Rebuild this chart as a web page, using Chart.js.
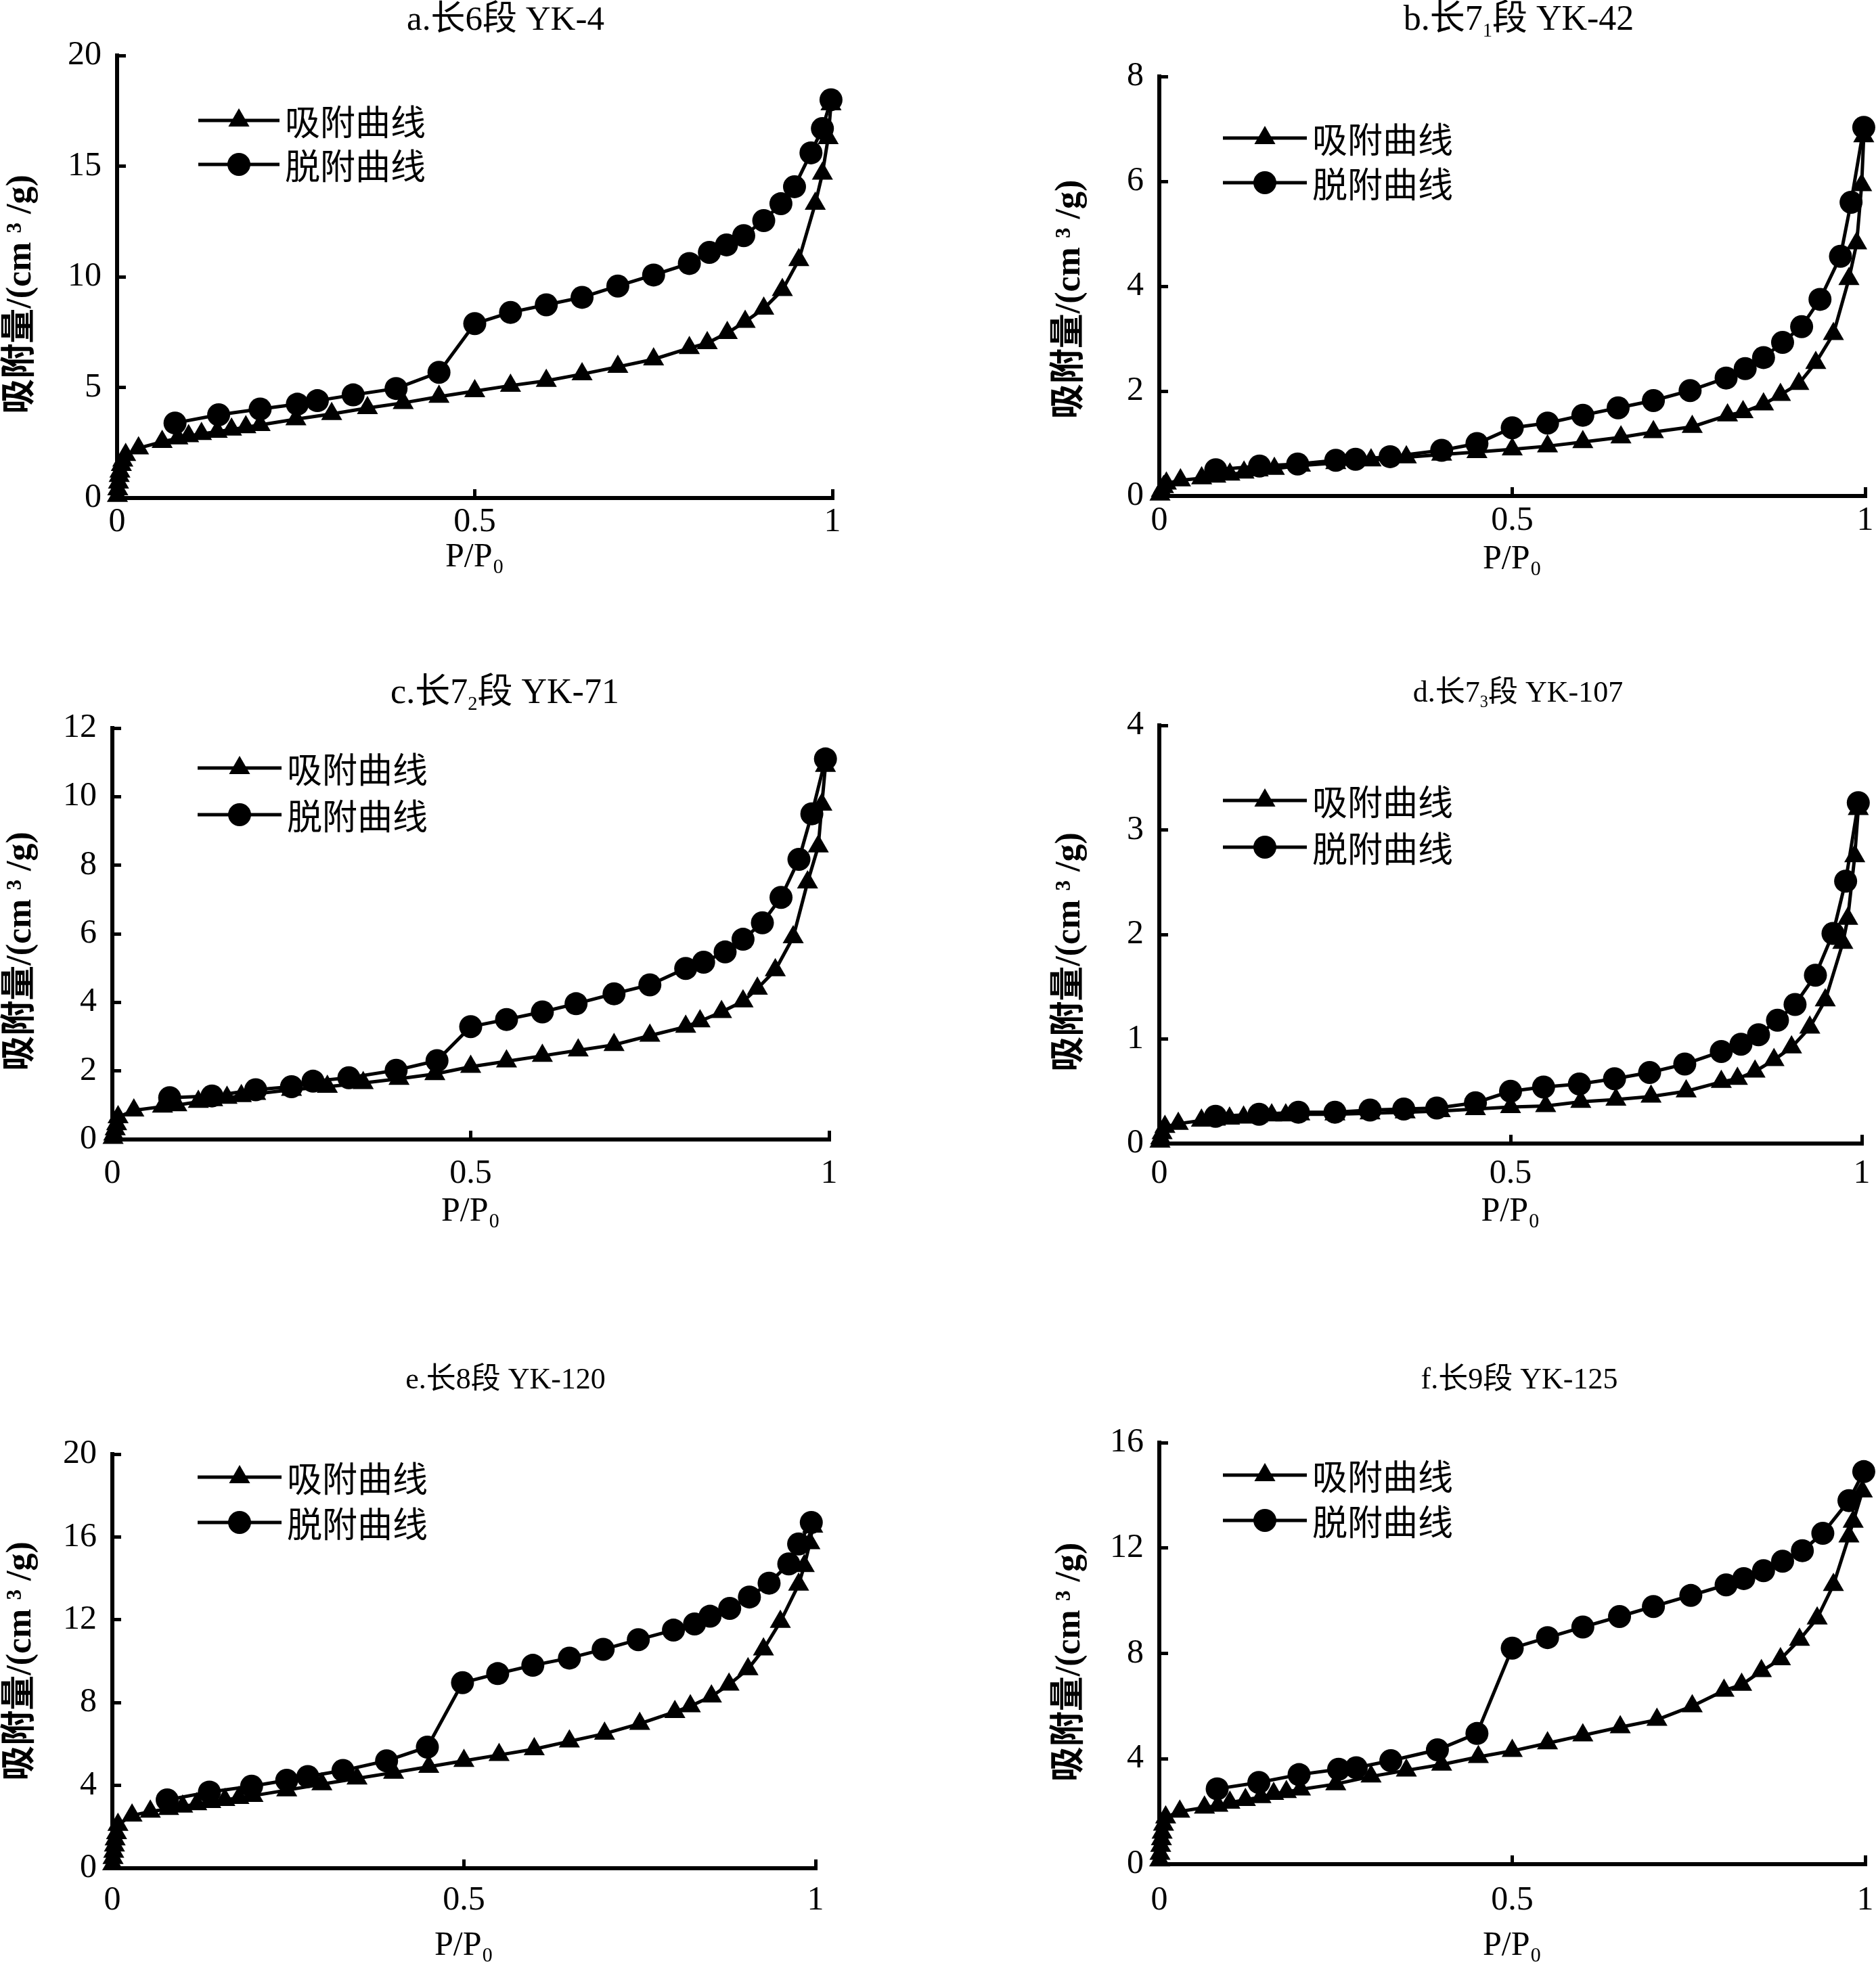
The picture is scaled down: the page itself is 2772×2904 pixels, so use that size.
<!DOCTYPE html>
<html>
<head>
<meta charset="utf-8">
<script src="https://cdn.jsdelivr.net/npm/chart.js@4.4.0/dist/chart.umd.min.js"></script>
<style>
  html, body { margin: 0; padding: 0; background: #fff; overflow: hidden; }
  #page { position: relative; width: 2772px; height: 2904px; background: #fff; overflow: hidden; }
  canvas { position: absolute; }
</style>
</head>
<body>
<div id="page"></div>
<script>
// series labels and axis titles
const seriesNames = ['吸附曲线', '脱附曲线'];
const xTitle = 'P/P₀';
const yTitle = '吸附量/(cm ³ /g)';

// a. 长6段 YK-4
const aAdsX = [0.0005, 0.001, 0.002, 0.003, 0.004, 0.006, 0.008, 0.012, 0.03, 0.063, 0.085, 0.1, 0.118, 0.14, 0.16, 0.18, 0.2, 0.25, 0.3, 0.35, 0.4, 0.45, 0.5, 0.55, 0.6, 0.65, 0.7, 0.75, 0.8, 0.825, 0.853, 0.878, 0.904, 0.93, 0.953, 0.976, 0.986, 0.994, 0.998];
const aAdsY = [0.1, 0.4, 0.7, 1.0, 1.2, 1.5, 1.7, 1.95, 2.25, 2.54, 2.7, 2.8, 2.9, 3.0, 3.1, 3.2, 3.3, 3.56, 3.8, 4.07, 4.3, 4.58, 4.83, 5.08, 5.3, 5.6, 5.93, 6.27, 6.78, 7.0, 7.46, 7.97, 8.56, 9.4, 10.76, 13.3, 14.66, 16.27, 17.8];
const aDesX = [0.998, 0.986, 0.97, 0.947, 0.928, 0.904, 0.876, 0.852, 0.828, 0.8, 0.75, 0.7, 0.65, 0.6, 0.55, 0.5, 0.45, 0.39, 0.33, 0.28, 0.252, 0.2, 0.142, 0.081];
const aDesY = [18.0, 16.7, 15.6, 14.07, 13.3, 12.54, 11.86, 11.44, 11.1, 10.6, 10.08, 9.58, 9.07, 8.73, 8.39, 7.88, 5.68, 4.95, 4.66, 4.4, 4.24, 4.02, 3.76, 3.39];

// b. 长71段 YK-42
const bAdsX = [0.001, 0.003, 0.006, 0.01, 0.03, 0.06, 0.08, 0.1, 0.12, 0.14, 0.163, 0.2, 0.25, 0.3, 0.35, 0.4, 0.45, 0.5, 0.55, 0.6, 0.654, 0.7, 0.755, 0.805, 0.827, 0.856, 0.88, 0.906, 0.93, 0.955, 0.977, 0.988, 0.995, 0.998];
const bAdsY = [0.03, 0.1, 0.17, 0.24, 0.3, 0.34, 0.37, 0.41, 0.45, 0.49, 0.52, 0.58, 0.63, 0.68, 0.74, 0.79, 0.84, 0.89, 0.95, 1.03, 1.12, 1.22, 1.32, 1.54, 1.6, 1.75, 1.93, 2.14, 2.54, 3.09, 4.14, 4.82, 5.93, 6.86];
const bDesX = [0.998, 0.98, 0.965, 0.936, 0.91, 0.883, 0.856, 0.83, 0.803, 0.752, 0.7, 0.65, 0.6, 0.55, 0.5, 0.45, 0.4, 0.327, 0.278, 0.25, 0.196, 0.142, 0.08];
const bDesY = [7.03, 5.6, 4.57, 3.75, 3.23, 2.93, 2.64, 2.43, 2.25, 2.01, 1.82, 1.68, 1.54, 1.39, 1.3, 1.0, 0.87, 0.75, 0.7, 0.68, 0.61, 0.57, 0.5];

// c. 长72段 YK-71
const cAdsX = [0.001, 0.002, 0.004, 0.006, 0.008, 0.03, 0.07, 0.09, 0.12, 0.14, 0.16, 0.18, 0.2, 0.25, 0.3, 0.35, 0.4, 0.45, 0.5, 0.55, 0.6, 0.65, 0.7, 0.75, 0.8, 0.82, 0.85, 0.88, 0.9, 0.925, 0.95, 0.97, 0.985, 0.99, 0.995];
const cAdsY = [0.05, 0.15, 0.3, 0.45, 0.65, 0.85, 0.96, 1.0, 1.1, 1.15, 1.22, 1.27, 1.33, 1.45, 1.54, 1.65, 1.77, 1.91, 2.12, 2.28, 2.44, 2.6, 2.76, 3.03, 3.29, 3.45, 3.72, 4.03, 4.4, 4.94, 5.9, 7.5, 8.55, 9.77, 10.9];
const cDesX = [0.995, 0.976, 0.958, 0.933, 0.907, 0.88, 0.855, 0.825, 0.8, 0.75, 0.7, 0.647, 0.6, 0.55, 0.5, 0.453, 0.396, 0.33, 0.28, 0.25, 0.2, 0.139, 0.08];
const cDesY = [11.1, 9.5, 8.17, 7.06, 6.32, 5.84, 5.47, 5.17, 4.99, 4.51, 4.25, 3.96, 3.72, 3.5, 3.29, 2.3, 2.02, 1.8, 1.7, 1.54, 1.45, 1.27, 1.22];

// d. 长73段 YK-107
const dAdsX = [0.001, 0.002, 0.004, 0.008, 0.027, 0.06, 0.08, 0.1, 0.12, 0.14, 0.16, 0.18, 0.2, 0.25, 0.3, 0.35, 0.4, 0.45, 0.5, 0.55, 0.6, 0.65, 0.7, 0.75, 0.8, 0.823, 0.848, 0.875, 0.9, 0.926, 0.948, 0.973, 0.98, 0.99, 0.995];
const dAdsY = [0.02, 0.05, 0.1, 0.16, 0.19, 0.22, 0.23, 0.24, 0.25, 0.26, 0.27, 0.27, 0.28, 0.28, 0.29, 0.3, 0.31, 0.33, 0.35, 0.36, 0.4, 0.42, 0.45, 0.5, 0.59, 0.62, 0.69, 0.8, 0.92, 1.11, 1.37, 1.92, 2.15, 2.75, 3.2];
const dDesX = [0.995, 0.977, 0.959, 0.934, 0.905, 0.88, 0.853, 0.828, 0.8, 0.748, 0.698, 0.648, 0.598, 0.547, 0.5, 0.45, 0.395, 0.348, 0.3, 0.25, 0.198, 0.142, 0.08];
const dDesY = [3.26, 2.51, 2.01, 1.61, 1.33, 1.18, 1.04, 0.95, 0.88, 0.76, 0.68, 0.62, 0.57, 0.54, 0.5, 0.39, 0.34, 0.33, 0.32, 0.3, 0.3, 0.28, 0.26];

// e. 长8段 YK-120
const eAdsX = [0.0005, 0.001, 0.002, 0.003, 0.004, 0.006, 0.008, 0.028, 0.054, 0.08, 0.1, 0.12, 0.14, 0.16, 0.18, 0.2, 0.248, 0.298, 0.348, 0.4, 0.45, 0.5, 0.55, 0.6, 0.65, 0.7, 0.75, 0.8, 0.822, 0.852, 0.877, 0.904, 0.926, 0.95, 0.976, 0.984, 0.992, 0.996];
const eAdsY = [0.2, 0.5, 0.8, 1.1, 1.4, 1.7, 2.1, 2.55, 2.74, 2.87, 2.98, 3.1, 3.2, 3.3, 3.4, 3.5, 3.77, 4.06, 4.34, 4.62, 4.9, 5.19, 5.47, 5.75, 6.13, 6.5, 6.98, 7.55, 7.83, 8.3, 8.87, 9.62, 10.57, 11.9, 13.7, 14.6, 15.7, 16.5];
const eDesX = [0.994, 0.976, 0.962, 0.934, 0.906, 0.878, 0.85, 0.828, 0.798, 0.748, 0.698, 0.65, 0.598, 0.548, 0.498, 0.448, 0.39, 0.328, 0.278, 0.248, 0.198, 0.138, 0.078];
const eDesY = [16.7, 15.66, 14.7, 13.77, 13.1, 12.55, 12.17, 11.8, 11.5, 11.04, 10.57, 10.15, 9.8, 9.4, 8.96, 5.85, 5.19, 4.72, 4.43, 4.25, 3.96, 3.68, 3.3];

// f. 长9段 YK-125
const fAdsX = [0.0005, 0.001, 0.002, 0.003, 0.004, 0.006, 0.009, 0.029, 0.064, 0.083, 0.1, 0.122, 0.144, 0.162, 0.18, 0.2, 0.25, 0.3, 0.35, 0.4, 0.452, 0.5, 0.55, 0.6, 0.653, 0.705, 0.755, 0.8, 0.825, 0.853, 0.88, 0.907, 0.932, 0.955, 0.977, 0.983, 0.996];
const fAdsY = [0.15, 0.4, 0.7, 0.95, 1.2, 1.5, 1.78, 2.0, 2.15, 2.22, 2.34, 2.44, 2.55, 2.67, 2.74, 2.84, 3.04, 3.33, 3.56, 3.78, 4.07, 4.3, 4.59, 4.89, 5.2, 5.48, 6.0, 6.59, 6.81, 7.33, 7.78, 8.52, 9.33, 10.6, 12.44, 13.0, 14.15];
const fDesX = [0.998, 0.977, 0.94, 0.911, 0.883, 0.856, 0.828, 0.803, 0.753, 0.7, 0.652, 0.6, 0.55, 0.5, 0.45, 0.394, 0.328, 0.279, 0.254, 0.198, 0.141, 0.082];
const fDesY = [14.9, 13.8, 12.56, 11.9, 11.5, 11.14, 10.84, 10.6, 10.2, 9.78, 9.4, 9.0, 8.6, 8.2, 4.96, 4.34, 3.93, 3.66, 3.6, 3.4, 3.1, 2.86];

// panel titles, {sub} = subscript
const titleA = ['a.长6段 YK-4'];
const titleB = ['b.长7', {sub: '1'}, '段 YK-42'];
const titleC = ['c.长7', {sub: '2'}, '段 YK-71'];
const titleD = ['d.长7', {sub: '3'}, '段 YK-107'];
const titleE = ['e.长8段 YK-120'];
const titleF = ['f.长9段 YK-125'];

// y axis ranges
const yMaxes = [20, 8, 12, 4, 20, 16];
const ySteps = [5, 2, 2, 1, 4, 4];

const SERIF = '"Liberation Serif", "Noto Sans CJK SC", serif';
const CJK = '"Noto Sans CJK SC", "Liberation Serif", sans-serif';

// page layout of each panel (pixels on the page)
// box: canvas left, top, width, height; area: plot left, right, top, bottom
// right-hand canvases run past the page edge so the last x label has room
// yShift: how far the y title sits below the plot centre
const panels = [
  {title: titleA, ads: [aAdsX, aAdsY], des: [aDesX, aDesY], box: [0, 0, 1400, 854],      area: [173, 1230, 82, 736],    xPad: 19, xH: 118, yShift: 28, tPos: [747, 31, 51],   leg: [293, 413, 178, 243]},
  {title: titleB, ads: [bAdsX, bAdsY], des: [bDesX, bDesY], box: [1550, 0, 1290, 857],   area: [1713, 2756, 113, 733],  xPad: 20, xH: 124, yShift: 20, tPos: [2244, 30, 52],  leg: [1807, 1931, 204, 270]},
  {title: titleC, ads: [cAdsX, cAdsY], des: [cDesX, cDesY], box: [0, 990, 1400, 831],    area: [166, 1225, 1076, 1684], xPad: 34, xH: 137, yShift: 24, tPos: [746, 1025, 52], leg: [292, 416, 1135, 1204]},
  {title: titleD, ads: [dAdsX, dAdsY], des: [dDesX, dDesY], box: [1550, 990, 1290, 831], area: [1713, 2751, 1072, 1690], xPad: 28, xH: 131, yShift: 24, tPos: [2243, 1025, 44], leg: [1807, 1931, 1183, 1252]},
  {title: titleE, ads: [eAdsX, eAdsY], des: [eDesX, eDesY], box: [0, 2000, 1400, 906],   area: [166, 1205, 2149, 2761], xPad: 31, xH: 145, yShift: 0,  tPos: [747, 2040, 44], leg: [292, 416, 2183, 2250]},
  {title: titleF, ads: [fAdsX, fAdsY], des: [fDesX, fDesY], box: [1550, 2000, 1290, 906], area: [1713, 2756, 2132, 2755], xPad: 37, xH: 151, yShift: 10, tPos: [2245, 2040, 44], leg: [1807, 1931, 2180, 2247]}
];

function marker(ctx, style, x, y, r) {
  ctx.beginPath();
  if (style === 'triangle') {
    ctx.moveTo(x, y - r);
    ctx.lineTo(x + Math.sin(Math.PI * 2 / 3) * r, y + r / 2);
    ctx.lineTo(x - Math.sin(Math.PI * 2 / 3) * r, y + r / 2);
    ctx.closePath();
  } else {
    ctx.arc(x, y, r, 0, Math.PI * 2);
  }
  ctx.fill();
}

// title above each panel and legend inside the plot
const panelDeco = {
  id: 'panelDeco',
  afterDraw(chart, args, o) {
    const ctx = chart.ctx;
    ctx.save();
    ctx.fillStyle = '#000';
    ctx.strokeStyle = '#000';
    ctx.textBaseline = 'middle';
    ctx.textAlign = 'left';

    // title
    const parts = o.title.map(p => {
      const sub = typeof p !== 'string';
      const text = sub ? p.sub : p;
      const size = sub ? o.titleSize * 0.55 : o.titleSize;
      ctx.font = size + 'px ' + SERIF;
      return {text, size, sub, w: ctx.measureText(text).width};
    });
    let x = o.titleX - parts.reduce((s, p) => s + p.w, 0) / 2;
    parts.forEach(p => {
      ctx.font = p.size + 'px ' + SERIF;
      ctx.fillText(p.text, x, o.titleY + (p.sub ? o.titleSize * 0.32 : 0));
      x += p.w;
    });

    // legend
    chart.data.datasets.forEach((ds, i) => {
      const y = o.legY[i];
      ctx.lineWidth = ds.borderWidth;
      ctx.beginPath();
      ctx.moveTo(o.legX1, y);
      ctx.lineTo(o.legX2, y);
      ctx.stroke();
      marker(ctx, ds.pointStyle, (o.legX1 + o.legX2) / 2, y, ds.pointRadius);
      ctx.font = '52px ' + CJK;
      ctx.fillText(ds.label, o.legX2 + 8, y + 2);
    });
    ctx.restore();
  }
};

const page = document.getElementById('page');

panels.forEach((p, k) => {
  const [left, top, width, height] = p.box;
  const [aL, aR, aT, aB] = p.area;
  const cv = document.createElement('canvas');
  cv.width = width;
  cv.height = height;
  cv.style.left = left + 'px';
  cv.style.top = top + 'px';
  cv.style.width = width + 'px';
  cv.style.height = height + 'px';
  page.appendChild(cv);

  const pts = (xs, ys) => xs.map((x, i) => ({x: x, y: ys[i]}));
  const axisGrid = {drawOnChartArea: false, drawTicks: true, tickLength: -13, lineWidth: 5, color: '#000'};
  const axisBorder = {display: true, color: '#000', width: 6};
  // trailing spaces push the rotated title down from the plot centre
  const ySpaces = ' '.repeat(Math.round(p.yShift * 2 / 13));

  new Chart(cv, {
    type: 'scatter',
    data: {
      datasets: [
        {
          label: seriesNames[0],
          data: pts(p.ads[0], p.ads[1]),
          showLine: true,
          borderColor: '#000',
          backgroundColor: '#000',
          borderWidth: 5,
          pointStyle: 'triangle',
          pointRadius: 18,
          pointBorderWidth: 0,
          tension: 0,
          clip: false,
          order: 1
        },
        {
          label: seriesNames[1],
          data: pts(p.des[0], p.des[1]),
          showLine: true,
          borderColor: '#000',
          backgroundColor: '#000',
          borderWidth: 5,
          pointStyle: 'circle',
          pointRadius: 17,
          pointBorderWidth: 0,
          tension: 0,
          clip: false,
          order: 0
        }
      ]
    },
    options: {
      responsive: false,
      animation: false,
      events: [],
      layout: {padding: {left: 0, top: aT - top, right: left + width - aR, bottom: 0}},
      plugins: {
        legend: {display: false},
        tooltip: {enabled: false},
        panelDeco: {
          title: p.title,
          titleX: p.tPos[0] - left,
          titleY: p.tPos[1] - top,
          titleSize: p.tPos[2],
          legX1: p.leg[0] - left,
          legX2: p.leg[1] - left,
          legY: [p.leg[2] - top, p.leg[3] - top]
        }
      },
      scales: {
        x: {
          type: 'linear',
          min: 0,
          max: 1,
          ticks: {stepSize: 0.5, padding: p.xPad, color: '#000', font: {family: SERIF, size: 50}, callback: v => String(v)},
          grid: axisGrid,
          border: axisBorder,
          title: {display: true, text: xTitle, color: '#000', font: {family: SERIF, size: 50}, padding: 0},
          afterFit(scale) { scale.height = p.xH; }
        },
        y: {
          type: 'linear',
          min: 0,
          max: yMaxes[k],
          ticks: {stepSize: ySteps[k], padding: 36, color: '#000', font: {family: SERIF, size: 50}},
          grid: axisGrid,
          border: axisBorder,
          title: {display: true, text: yTitle + ySpaces, color: '#000', font: {family: SERIF, size: 52, weight: 'bold'}, padding: {top: 0, bottom: 0}},
          afterFit(scale) { scale.width = aL - left; }
        }
      }
    },
    plugins: [panelDeco]
  });
});
</script>
</body>
</html>
